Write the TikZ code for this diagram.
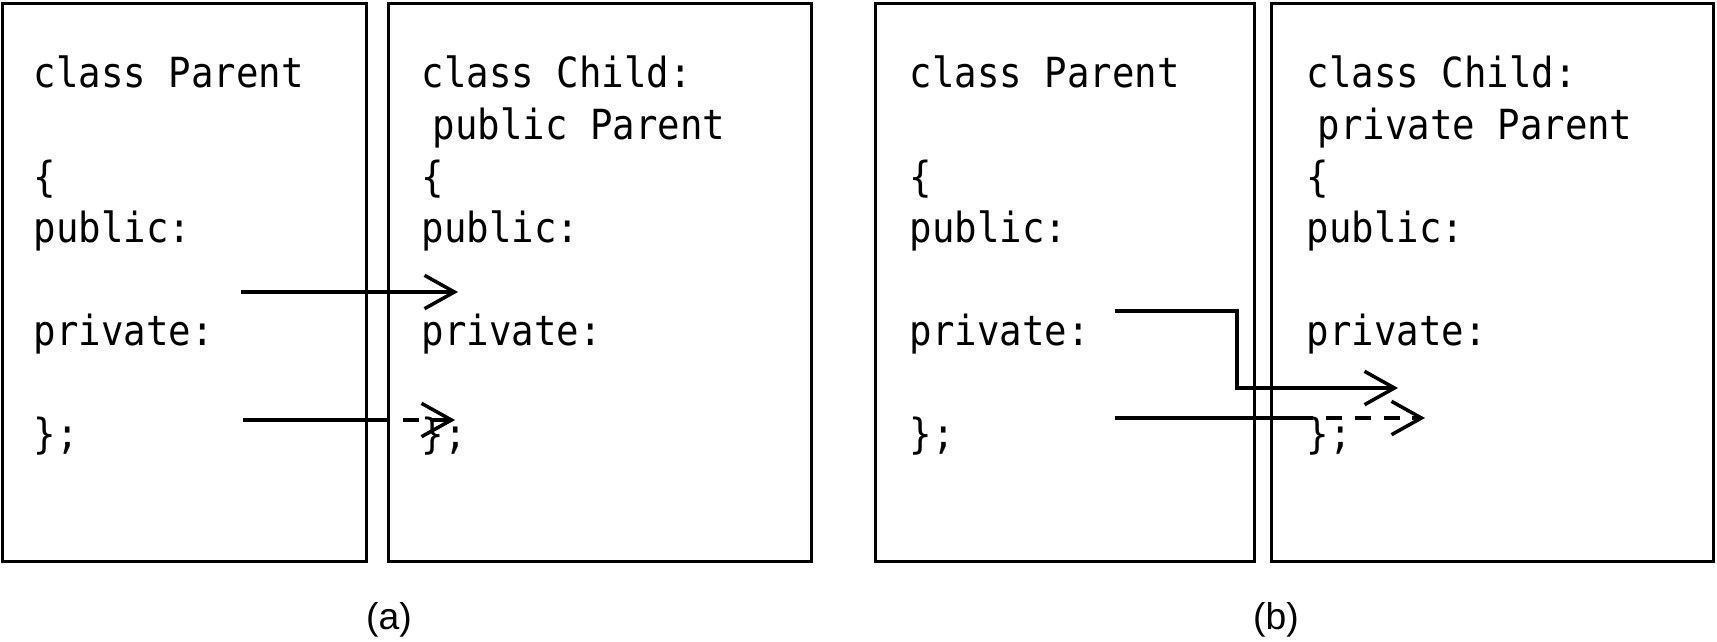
\documentclass[tikz,border=0pt]{standalone}
\usepackage{fontspec}
\setmainfont{Liberation Sans}
\newfontfamily\codefont[FakeStretch=0.9]{DejaVu Sans Mono}
\usetikzlibrary{arrows.meta,positioning}

\tikzset{
  classbox/.style={draw,line width=0.8pt,minimum height=5.57cm,inner sep=0pt},
  code/.style={font={\codefont\fontsize{11.8pt}{14pt}\selectfont},anchor=base west,inner sep=0pt},
  link/.style={line width=1pt,-{Straight Barb[length=8.5pt,width=9.5pt,line width=1pt]}},
  linkdash/.style={link,dash pattern=on 4.6pt off 3.6pt},
  caption/.style={font=\fontsize{10.6pt}{12pt}\selectfont,inner sep=0pt}
}

\begin{document}
\begin{tikzpicture}[x=0.01cm,y=-0.01cm]
\useasboundingbox (0,0) rectangle (1717,642);

% Boxes
\node[classbox,minimum width=3.64cm] (parentA) at (184.5,282.5) {};
\node[classbox,minimum width=4.22cm] (childA) at (600,282.5) {};
\node[classbox,minimum width=3.78cm] (parentB) at (1065,282.5) {};
\node[classbox,minimum width=4.41cm] (childB) at (1492.5,282.5) {};

% (a) public inheritance
\node[code] (pa1) at (33,87) {class Parent};
\node[code] (pa3) at (33,191) {\{};
\node[code] (pa4) at (33,242.5) {public:};
\node[code] (pa6) at (33,345.5) {private:};
\node[code] (pa8) at (33,448.5) {\};};

\node[code] (ca1) at (421,87) {class Child:};
\node[code] (ca2) at (432,139) {public Parent};
\node[code] (ca3) at (421,191) {\{};
\node[code] (ca4) at (421,242.5) {public:};
\node[code] (ca6) at (421,345.5) {private:};
\node[code] (ca8) at (421,448.5) {\};};

% (b) private inheritance
\node[code] (pb1) at (909,87) {class Parent};
\node[code] (pb3) at (909,191) {\{};
\node[code] (pb4) at (909,242.5) {public:};
\node[code] (pb6) at (909,345.5) {private:};
\node[code] (pb8) at (909,448.5) {\};};

\node[code] (cb1) at (1306,87) {class Child:};
\node[code] (cb2) at (1317,139) {private Parent};
\node[code] (cb3) at (1306,191) {\{};
\node[code] (cb4) at (1306,242.5) {public:};
\node[code] (cb6) at (1306,345.5) {private:};
\node[code] (cb8) at (1306,448.5) {\};};

% Arrow ends
\coordinate (a1s) at (241,292);
\coordinate (a1e) at (458,292);
\coordinate (a2s) at (243,420);
\coordinate (a2m) at (374,420);
\coordinate (a2e) at (455,420);
\coordinate (b1s) at (1115,311);
\coordinate (b1c) at (1237,388);
\coordinate (b1e) at (1398,388);
\coordinate (b2s) at (1115,418);
\coordinate (b2m) at (1297,418);
\coordinate (b2e) at (1425,418);

% Connectors
\draw[link] (a1s) -- (a1e);
\draw[line width=1pt] (a2s) -- (a2m);
\draw[linkdash] (a2m) -- (a2e);
\draw[link] (b1s) -| (b1c) -- (b1e);
\draw[line width=1pt] (b2s) -- (b2m);
\draw[linkdash] (b2m) -- (b2e);

% Captions
\node[caption] (capA) at (389,620) {(a)};
\node[caption] (capB) at (1276,620) {(b)};
\end{tikzpicture}
\end{document}
